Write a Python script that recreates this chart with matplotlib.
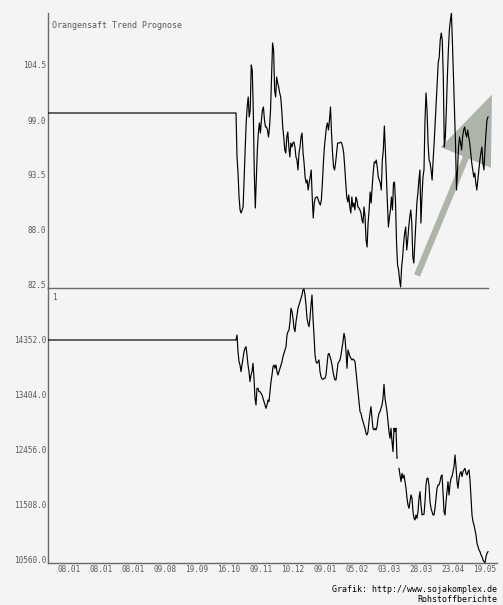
import numpy as np
import matplotlib
matplotlib.use('Agg')
import matplotlib.pyplot as plt
from matplotlib.patches import FancyArrowPatch, ArrowStyle

title = 'Orangensaft Trend Prognose'
date_labels = ['08.01', '08.01', '08.01', '09.08', '19.09', '16.10', '09.11',
               '10.12', '09.01', '05.02', '03.03', '28.03', '23.04', '19.05']
price_ticks = [82.5, 88.0, 93.5, 99.0, 104.5]
index_ticks = [10560.0, 11508.0, 12456.0, 13404.0, 14352.0]

# flat level before the data starts
price_flat = 99.7
index_flat = 14352

# Orangensaft (upper panel)
price = [99.7, 95.3, 93.7, 91.3, 90.0, 89.7, 90.0, 90.3, 93.3, 96.0, 98.7, 100.3, 101.3, 99.3,
         100.0, 104.5, 104.0, 100.0, 93.7, 90.2, 93.0, 96.0, 97.7, 98.7, 97.7, 99.0, 100.0, 100.3,
         99.0, 98.3, 98.3, 98.0, 97.3, 98.3, 100.0, 103.3, 106.7, 106.0, 102.0, 101.3, 103.3, 102.7,
         102.3, 101.7, 101.3, 100.0, 98.3, 97.3, 96.0, 95.7, 97.3, 97.8, 96.3, 95.3, 96.7, 96.3,
         96.7, 96.8, 96.3, 95.3, 95.0, 94.0, 95.7, 96.3, 97.3, 97.7, 95.7, 94.7, 93.3, 92.7, 93.0,
         92.0, 92.7, 93.3, 94.0, 91.3, 89.2, 90.7, 91.2, 91.3, 91.3, 91.0, 90.7, 90.5, 91.0, 92.7,
         94.7, 96.3, 97.3, 98.3, 98.7, 98.0, 99.0, 100.3, 97.7, 95.7, 94.3, 94.0, 94.7, 95.7, 96.7,
         96.7, 96.7, 96.8, 96.7, 96.3, 95.7, 94.3, 92.7, 91.3, 90.8, 91.5, 90.3, 89.7, 91.3, 90.3,
         90.7, 90.0, 91.3, 91.0, 90.3, 90.2, 90.0, 89.7, 89.0,
         88.7, 90.3, 89.3, 87.0, 86.3, 88.7, 90.0, 91.8, 90.7, 92.3, 93.7, 94.8, 94.7, 95.0, 94.3,
         93.3, 93.0, 92.7, 92.0, 95.0, 96.0, 98.4, 96.0, 93.3, 90.7, 88.3, 89.3, 90.0, 91.3, 90.0,
         92.7, 92.8, 90.7, 86.7, 84.5, 84.0, 83.0, 82.3, 84.3, 85.3, 86.7, 87.7, 88.3, 86.0, 87.0,
         88.3, 89.3, 90.0, 88.7, 85.3, 84.7, 86.7, 88.7, 90.7, 91.7, 93.0, 94.0, 88.7, 91.3, 93.3,
         94.0, 99.0, 101.7, 100.0, 96.7, 95.0, 94.7, 94.0, 93.0, 95.0, 96.7, 98.7, 100.7, 102.7,
         104.7, 105.3, 107.0, 107.7, 107.0, 103.3, 96.3, 97.3, 100.0, 103.3, 106.0, 108.0, 109.0,
         109.7, 106.7, 103.3, 100.0, 96.7, 92.0, 94.0, 96.3, 97.3, 96.7, 96.0, 97.3, 98.0, 98.3,
         97.7, 97.3, 98.0, 97.3, 96.7, 95.7, 94.7, 94.0, 93.3, 93.7, 92.7, 92.0, 93.0, 94.0, 95.0,
         95.7, 96.3, 94.7, 94.0, 96.0, 97.7, 99.0, 99.3]

# index (lower panel)
index = [14352, 14438, 14151, 13979, 13921, 13806, 13921, 14036, 14151, 14208, 14237, 14094,
         13921, 13806, 13634, 13749, 13806, 13950, 13691, 13347, 13232, 13519, 13519, 13462,
         13462, 13433, 13404, 13347, 13289, 13232, 13174, 13232, 13318, 13289, 13462, 13634,
         13749, 13892, 13921, 13864, 13921, 13806, 13749, 13806, 13864, 13921, 13979, 14065,
         14122, 14180, 14237, 14438, 14496, 14524, 14668, 14898, 14840, 14726, 14553, 14496,
         14668, 14783, 14898, 14955, 15013, 15070, 15128, 15214, 15231, 15128, 14955, 14726,
         14639, 14582, 14726, 14955, 15128, 14726, 14438, 14094, 13979, 13950, 13979, 14007,
         13806, 13720, 13680, 13674, 13691, 13691, 13749, 13921, 14094, 14122, 14065, 14007,
         13921, 13806, 13720, 13663, 13663, 13806, 13950, 13979, 14007, 14094, 14208, 14323,
         14467, 14381, 14151, 13864, 14180, 14122, 14065, 14036, 14007, 14025, 14007, 13979,
         13806, 13634, 13462, 13289, 13117, 13088, 13002,
         12945, 12887, 12830, 12744, 12715, 12772, 12945, 13088, 13203, 13002, 12830, 12801,
         12830, 12801, 12858, 13002, 13088, 13117, 13174, 13232, 13347, 13588, 13347, 13232,
         13117, 12945, 12772, 12657, 12830, 12600, 12428, 12830, 12772, 12830, 12313, np.nan,
         12140, 12025, 11910, 12054, 11968, 12025, 11910, 11796, 11623, 11508, 11451, 11566,
         11681, 11623, 11393, 11278, 11250, 11336, 11278, 11393, 11623, 11738, 11508, 11336,
         11347, 11347, 11566, 11853, 11968, 11968, 11853, 11566, 11451, 11393, 11336, 11336,
         11451, 11623, 11796, 11853, 11853, 11910, 11997, 12025, 11738, 11393, 11336, 11566,
         11738, 11910, 11681, 11853, 11968, 11997, 12083, 12169, 12370, 12169, 11910, 11796,
         11968, 12054, 12083, 11997, 12083, 12112, 12140, 12054, 12025, 12083, 12112, 11939,
         11623, 11336, 11221, 11164, 11077, 10991, 10848, 10790, 10733, 10704, 10647, 10618,
         10560, 10532, 10515, 10618, 10675, 10704]

W, H = 503, 605
bg = '#f4f4f4'
grey = '#5a5a5a'
mono = 'DejaVu Sans Mono'

fig = plt.figure(figsize=(W / 100, H / 100), dpi=100, facecolor=bg)
ax1 = fig.add_axes([48 / W, (H - 288) / H, 449 / W, 275 / H])
ax2 = fig.add_axes([48 / W, (H - 563) / H, 449 / W, 275 / H], sharex=ax1)

# x positions: flat history from the left edge, then the daily data
x_price = np.concatenate([[0], np.linspace(188, 440, len(price))])
x_index = np.concatenate([[0], np.linspace(188, 440, len(index))])

ax1.plot(x_price, [price_flat] + price, color='black', lw=0.85, zorder=3)
ax2.plot(x_index, [index_flat] + index, color='black', lw=0.85, zorder=3)

# trend arrow
arrow = FancyArrowPatch((368, 83.2), (445, 101.8),
                        arrowstyle=ArrowStyle.Simple(head_length=49, head_width=39, tail_width=4.6),
                        mutation_scale=1, color='#adb5ab', lw=0, zorder=2)
ax1.add_patch(arrow)

for ax in (ax1, ax2):
    ax.patch.set_visible(False)
    ax.spines['top'].set_visible(False)
    ax.spines['right'].set_visible(False)
    ax.spines['left'].set_color('#6a6a6a')
    ax.spines['bottom'].set_color('#6a6a6a')
    ax.spines['left'].set_linewidth(1.0)
    ax.spines['bottom'].set_linewidth(1.0)
    ax.tick_params(length=0, labelsize=5.6, labelcolor=grey)

ax1.spines['bottom'].set_zorder(5)
ax1.set_xlim(0, 449)
ax1.set_ylim(82.2, 109.7)
ax2.set_ylim(10508, 15248)
ax1.spines['bottom'].set_bounds(0, 440)

ax1.set_yticks(price_ticks)
ax1.set_yticklabels(['%.1f' % v for v in price_ticks], family=mono)
ax2.set_yticks(index_ticks)
ax2.set_yticklabels(['%.1f' % v for v in index_ticks], family=mono)
ax1.tick_params(axis='y', pad=1.5)
ax2.tick_params(axis='y', pad=1.5)

ax2.set_xticks(21 + 32 * np.arange(len(date_labels)))
ax2.set_xticklabels(date_labels, family=mono)
ax2.tick_params(axis='x', pad=1.5)
plt.setp(ax1.get_xticklabels(), visible=False)

fig.text(52 / W, 1 - 25 / H, title, ha='left', va='center', fontsize=6, family=mono, color=grey)
fig.text(52 / W, 1 - 298 / H, '1', ha='left', va='center', fontsize=5.6, family=mono, color=grey)
fig.text(497 / W, 1 - 590 / H, 'Grafik: http://www.sojakomplex.de', ha='right', va='center',
         fontsize=6, family=mono, color='black')
fig.text(497 / W, 1 - 599.5 / H, 'Rohstoffberichte', ha='right', va='center',
         fontsize=6, family=mono, color='black')

plt.savefig('out.png', dpi=100, facecolor=bg)
plt.close()
